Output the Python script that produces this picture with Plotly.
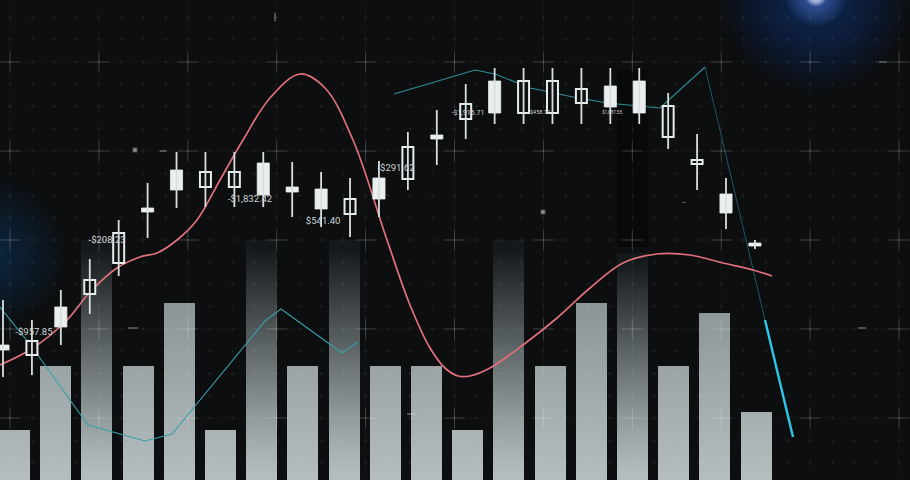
import plotly.graph_objects as go

# ---------------- data ----------------
# candlesticks (price units), one per session index
candle_open  = [135, 125, 173, 186, 217, 272, 310, 293, 293, 317, 293, 291, 266, 302,
                301, 345, 361, 399, 367, 367, 377, 394, 399, 343, 316, 286, 237]
candle_close = [130, 139, 153, 200, 247, 268, 290, 308, 308, 285, 288, 271, 281, 281,
                333, 341, 376, 367, 399, 399, 391, 373, 367, 374, 320, 267, 234]
candle_high  = [180, 160, 190, 221, 260, 297, 328, 328, 328, 328, 318, 308, 302, 319,
                348, 370, 396, 412, 412, 412, 412, 412, 412, 387, 346, 302, 240]
candle_low   = [103, 105, 135, 166, 204, 242, 272, 273, 273, 273, 263, 253, 243, 263,
                290, 315, 341, 356, 356, 356, 356, 356, 356, 331, 290, 251, 231]

# volume bars
volume       = [50, 114, 240, 114, 177, 50, 240, 114, 240, 114, 114, 50, 240, 114,
                177, 227, 114, 167, 68]
volume_faded = [0, 0, 1, 0, 0, 0, 1, 0, 1, 0, 0, 0, 1, 0, 0, 1, 0, 0, 0]
shadow_base   = [0] * 15 + [233] + [0] * 3
shadow_height = [0] * 15 + [177] + [0] * 3

# indicator lines (time units 0..910)
pink_t = [0, 33, 67, 90, 117, 140, 157, 177, 197, 220, 243, 270, 300, 325, 353, 387,
          410, 430, 445, 458, 470, 490, 523, 557, 590, 623, 657, 690, 723, 753, 772]
pink_v = [115, 132, 160, 188, 212, 223, 227, 240, 260, 300, 340, 382, 406, 392, 340, 240,
          175, 132, 112, 104, 104, 112, 135, 162, 192, 217, 226, 225, 217, 210, 204]

teal1_t = [0, 32, 88, 145, 172, 265, 281, 342, 358]
teal1_v = [173, 133, 55, 39, 46, 159, 171, 127, 138]
teal2_t = [394, 440, 475, 495, 530, 573, 607, 660, 705]
teal2_v = [386, 400, 410, 406, 392, 383, 377, 372, 413]
teal3_t = [705, 765]
teal3_v = [413, 160]
teal4_t = [765, 793]
teal4_v = [160, 43]

# price labels
label_text = ["-$957.85", "-$208.23", "-$1,832.42", "$541.40", "-$291.62",
              "-$1,916.71", "$458.70", "$1,887.55", "---"]
label_x    = [1.07, 3.6, 8.54, 11.07, 13.59, 16.08, 18.57, 21.06, 23.55]
label_y    = [147, 239, 280, 258, 311, 367, 367, 367, 277]
label_size = [9.5, 9.5, 9.5, 9.5, 9.5, 7, 5.5, 4.5, 5]

# ---------------- styling helpers ----------------
BG = "#0c0e10"


def hex2rgb(h):
    h = h.lstrip("#")
    return [int(h[i:i + 2], 16) for i in (0, 2, 4)]


def mixrgb(a, b, t):
    return [a[i] + (b[i] - a[i]) * t for i in range(3)]


BAR_BOT = hex2rgb("#b4bebf")
BAR_TOP = hex2rgb("#869092")
FADE = hex2rgb("#14181a")

fig = go.Figure()

# ---------------- volume bars (gradient via stacked slices) ----------------
N = 90
bar_x = list(range(len(volume)))
for k in range(N):
    bases, heights, cols = [], [], []
    for h, fd in zip(volume, volume_faded):
        b = h * k / N
        seg = h / N
        vm = b + seg / 2
        c = mixrgb(BAR_BOT, BAR_TOP, min(vm / 200.0, 1.0))
        if fd:
            f = (vm / h) ** 1.5
            c = mixrgb(c, FADE, min(f * 1.05, 1.0))
        bases.append(b)
        heights.append(seg * (1.0 if k == N - 1 else 2.0))
        cols.append("rgb(%d,%d,%d)" % tuple(round(v) for v in c))
    fig.add_trace(go.Bar(x=bar_x, y=heights, base=bases, width=0.755,
                         marker=dict(color=cols, line=dict(width=0)),
                         xaxis="x", yaxis="y", hoverinfo="skip"))

fig.add_trace(go.Bar(x=bar_x, y=shadow_height, base=shadow_base, width=0.755,
                     marker=dict(color="rgba(0,0,0,0.35)", line=dict(width=0)),
                     xaxis="x", yaxis="y", hoverinfo="skip"))

# ---------------- decoration layer (time axis 0..910) ----------------
# soft glows built from stacked translucent discs
def glow(x, y, smin, smax, n, rgba):
    sizes = [smax - (smax - smin) * k / (n - 1) for k in range(n)]
    fig.add_trace(go.Scatter(x=[x] * n, y=[y] * n, mode="markers",
                             marker=dict(size=sizes, color=rgba, line=dict(width=0)),
                             xaxis="x2", yaxis="y", hoverinfo="skip"))


glow(816, 484, 20, 190, 26, "rgba(45,80,190,0.03)")
glow(816, 484, 8, 60, 12, "rgba(110,150,255,0.08)")
glow(816, 484, 4, 20, 6, "rgba(230,240,255,0.35)")
glow(-8, 226, 20, 150, 22, "rgba(40,110,160,0.022)")

# grid
major_x = [10 + 88.9 * k for k in range(11)]
major_y = [62 + 89 * k for k in range(5)]
minor_x = [10 + 22.225 * k - 22.225 * 1 for k in range(43)]
minor_y = [62 + 22.25 * k - 22.25 * 3 for k in range(22)]


def grid_lines(xs, ys):
    gx, gy = [], []
    for x in xs:
        gx += [x, x, None]
        gy += [0, 480, None]
    for y in ys:
        gx += [0, 910, None]
        gy += [y, y, None]
    return gx, gy


gx, gy = grid_lines(minor_x, minor_y)
fig.add_trace(go.Scatter(x=gx, y=gy, mode="lines",
                         line=dict(color="rgba(255,255,255,0.012)", width=1),
                         xaxis="x2", yaxis="y", hoverinfo="skip"))
gx, gy = grid_lines(major_x, major_y)
fig.add_trace(go.Scatter(x=gx, y=gy, mode="lines",
                         line=dict(color="rgba(255,255,255,0.03)", width=1),
                         xaxis="x2", yaxis="y", hoverinfo="skip"))
mx = [x for x in minor_x for y in minor_y]
my = [y for x in minor_x for y in minor_y]
fig.add_trace(go.Scatter(x=mx, y=my, mode="markers",
                         marker=dict(symbol="cross-thin", size=3,
                                     line=dict(color="rgba(255,255,255,0.06)", width=1)),
                         xaxis="x2", yaxis="y", hoverinfo="skip"))
cx = [x for x in major_x for y in major_y]
cy = [y for x in major_x for y in major_y]
fig.add_trace(go.Scatter(x=cx, y=cy, mode="markers",
                         marker=dict(symbol="cross-thin", size=15,
                                     line=dict(color="rgba(255,255,255,0.18)", width=1)),
                         xaxis="x2", yaxis="y", hoverinfo="skip"))

# small specks
fig.add_trace(go.Scatter(x=[135, 163, 543, 275, 133, 412, 883, 862],
                         y=[330, 329, 268, 463, 152, 66, 418, 152],
                         mode="markers",
                         marker=dict(symbol=["square", "line-ew", "square", "line-ns",
                                             "line-ew", "line-ew", "line-ew", "line-ew"],
                                     size=[3, 5, 3, 6, 7, 7, 6, 6],
                                     color="rgba(230,235,235,0.8)",
                                     line=dict(color="rgba(220,225,225,0.45)", width=2)),
                         xaxis="x2", yaxis="y", hoverinfo="skip"))

# indicator lines
fig.add_trace(go.Scatter(x=teal1_t, y=teal1_v, mode="lines",
                         line=dict(color="#3a9ea8", width=1.1),
                         xaxis="x2", yaxis="y", hoverinfo="skip"))
fig.add_trace(go.Scatter(x=teal2_t, y=teal2_v, mode="lines",
                         line=dict(color="#2f8f9a", width=1.1),
                         xaxis="x2", yaxis="y", hoverinfo="skip"))
fig.add_trace(go.Scatter(x=teal3_t, y=teal3_v, mode="lines",
                         line=dict(color="rgba(50,150,165,0.55)", width=1),
                         xaxis="x2", yaxis="y", hoverinfo="skip"))
fig.add_trace(go.Scatter(x=teal4_t, y=teal4_v, mode="lines",
                         line=dict(color="#30c6e8", width=2.4),
                         xaxis="x2", yaxis="y", hoverinfo="skip"))
fig.add_trace(go.Scatter(x=pink_t, y=pink_v, mode="lines",
                         line=dict(color="#e0707a", width=1.7, shape="spline", smoothing=1.0),
                         xaxis="x2", yaxis="y", hoverinfo="skip"))

# ---------------- candlesticks ----------------
idx = list(range(len(candle_open)))
wx, wy = [], []
for i, h, l in zip(idx, candle_high, candle_low):
    wx += [i, i, None]
    wy += [l, h, None]
fig.add_trace(go.Scatter(x=wx, y=wy, mode="lines",
                         line=dict(color="#d9dfdf", width=1.8),
                         xaxis="x3", yaxis="y", hoverinfo="skip"))

fx, fb, fh, hx, hb, hh = [], [], [], [], [], []
for i, o, c in zip(idx, candle_open, candle_close):
    lo, hi = min(o, c), max(o, c)
    if c < o:
        fx.append(i); fb.append(lo); fh.append(hi - lo)
    else:
        hx.append(i); hb.append(lo); hh.append(hi - lo)
fig.add_trace(go.Bar(x=fx, y=fh, base=fb, width=0.42,
                     marker=dict(color="#e9eeee", line=dict(color="#e9eeee", width=0.8)),
                     xaxis="x3", yaxis="y", hoverinfo="skip"))
fig.add_trace(go.Bar(x=hx, y=hh, base=hb, width=0.38,
                     marker=dict(color="#0e1012", line=dict(color="#e6ebeb", width=2)),
                     xaxis="x3", yaxis="y", hoverinfo="skip"))

fig.add_trace(go.Scatter(x=label_x, y=label_y, mode="text", text=label_text,
                         textfont=dict(family="Roboto", size=label_size, color="rgb(206,211,211)"),
                         xaxis="x3", yaxis="y", hoverinfo="skip"))

# ---------------- layout ----------------
hidden = dict(visible=False, showgrid=False, zeroline=False, fixedrange=True)
fig.update_layout(
    width=910, height=480,
    margin=dict(l=0, r=0, t=0, b=0),
    paper_bgcolor=BG, plot_bgcolor=BG,
    showlegend=False, barmode="overlay", bargap=0,
    xaxis=dict(range=[-14.5 / 41.2, 895.5 / 41.2], **hidden),
    xaxis2=dict(range=[0, 910], overlaying="x", **hidden),
    xaxis3=dict(range=[-3 / 28.92, 907 / 28.92], overlaying="x", **hidden),
    yaxis=dict(range=[0, 480], **hidden),
)

fig.write_html("out.html", config={"displayModeBar": False, "staticPlot": True},
               post_script="document.body.style.margin='0';")
